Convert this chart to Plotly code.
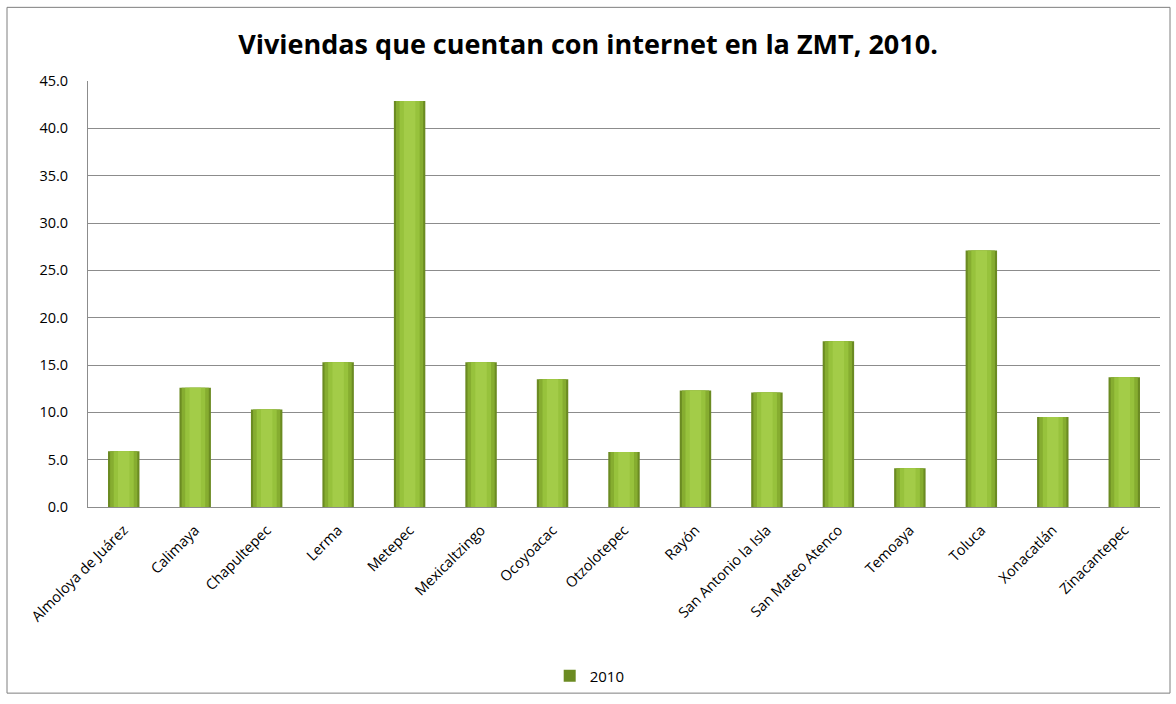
import plotly.graph_objects as go

# Municipios de la Zona Metropolitana de Toluca
municipios = [
    "Almoloya de Juárez", "Calimaya", "Chapultepec", "Lerma", "Metepec",
    "Mexicaltzingo", "Ocoyoacac", "Otzolotepec", "Rayón", "San Antonio la Isla",
    "San Mateo Atenco", "Temoaya", "Toluca", "Xonacatlán", "Zinacantepec",
]
# Porcentaje de viviendas con internet, 2010
viviendas_2010 = [5.9, 12.6, 10.3, 15.3, 42.9, 15.3, 13.5, 5.8, 12.3, 12.1,
                  17.5, 4.1, 27.1, 9.5, 13.7]
y_ticks = [0, 5, 10, 15, 20, 25, 30, 35, 40, 45]

FONT = "Open Sans"

fig = go.Figure()

# Cylinder-like shading: dark outer bar with lighter, narrower bars on top
layers = [
    (0.44, "#6B8B22", True),
    (0.38, "#86AD30", False),
    (0.28, "#97C23C", False),
    (0.16, "#A3CC48", False),
]
for width, color, show in layers:
    fig.add_trace(go.Bar(
        x=municipios,
        y=viviendas_2010,
        width=width,
        name="2010",
        marker=dict(color=color, line=dict(width=0)),
        showlegend=show,
        hoverinfo="skip" if not show else None,
    ))

fig.update_layout(
    barmode="overlay",
    width=1176,
    height=704,
    margin=dict(l=88, r=16, t=81, b=195),
    paper_bgcolor="white",
    plot_bgcolor="white",
    font=dict(family=FONT, size=14, color="#000000"),
    title=dict(
        text="<b>Viviendas que cuentan con internet en la ZMT, 2010.</b>",
        x=0.5, xanchor="center", y=0.937, yanchor="middle",
        font=dict(family=FONT, size=27, color="#000000"),
    ),
    showlegend=True,
    legend=dict(
        orientation="h", x=0.468, xanchor="center", y=-0.397, yanchor="middle",
        font=dict(family=FONT, size=15), itemwidth=30,
        bgcolor="rgba(0,0,0,0)",
    ),
    yaxis=dict(
        range=[0, 45],
        tickvals=y_ticks,
        ticktext=[f"{v:.1f}" for v in y_ticks],
        showgrid=True, gridcolor="#8C8C8C", gridwidth=1,
        showline=True, linecolor="#8C8C8C", linewidth=1,
        ticks="", ticklen=0, zeroline=False,
        ticklabelstandoff=16,
        tickfont=dict(family=FONT, size=14.5),
    ),
    xaxis=dict(
        tickangle=-45,
        showline=True, linecolor="#8C8C8C", linewidth=1,
        ticks="", showgrid=False,
        ticklabelstandoff=8,
        tickfont=dict(family=FONT, size=14.5),
    ),
    shapes=[dict(
        type="rect", xref="paper", yref="paper",
        x0=(7 - 88) / 1072, x1=(1170 - 88) / 1072,
        y0=(509 - 696) / 428, y1=(509 - 7) / 428,
        line=dict(color="#7F7F7F", width=1), fillcolor="rgba(0,0,0,0)",
        layer="below",
    )],
)

fig.write_html("out.html")
